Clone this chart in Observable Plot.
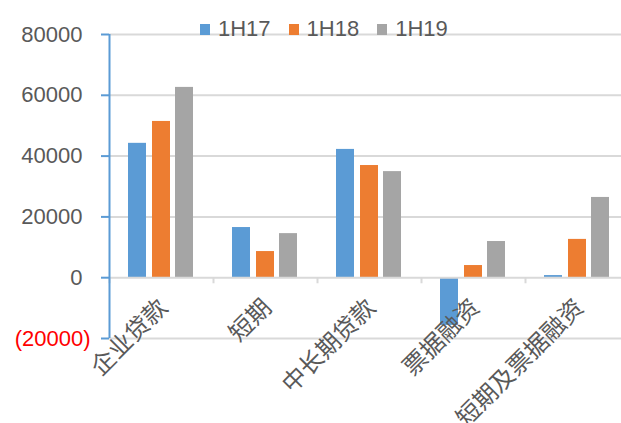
<!DOCTYPE html>
<html>
<head>
<meta charset="utf-8">
<script src="https://cdn.jsdelivr.net/npm/d3@7"></script>
<script src="https://cdn.jsdelivr.net/npm/@observablehq/plot@0.6"></script>
<style>
  html, body { margin: 0; padding: 0; background: #fff; overflow: hidden; }
  #wrap { position: relative; width: 621px; height: 423px; }
  #wrap svg { overflow: hidden; }
  #legend { position: absolute; left: 200px; top: 18px; display: flex; align-items: center;
    font-family: "Liberation Sans", Arial, sans-serif; font-size: 22px; color: #595959; line-height: 22px; }
  .item { display: flex; align-items: center; margin-right: 18px; }
  .sw { width: 10px; height: 11px; margin-right: 8px; }
</style>
</head>
<body>
<div id="wrap"><div id="legend"></div></div>
<script>
const categories = ["企业贷款", "短期", "中长期贷款", "票据融资", "短期及票据融资"];
const seriesNames = ["1H17", "1H18", "1H19"];
const v1H17 = [44200, 16500, 42200, -15700, 700];
const v1H18 = [51400, 8600, 36900, 4000, 12600];
const v1H19 = [62600, 14500, 34900, 11900, 26400];
const yTicks = [-20000, 0, 20000, 40000, 60000, 80000];
const colors = ["#5b9bd5", "#ed7d31", "#a5a5a5"];

const seriesValues = [v1H17, v1H18, v1H19];
const rows = categories.flatMap((c, i) => seriesNames.map((s, j) => ({category: c, series: s, value: seriesValues[j][i]})));
const insets = {"1H17": [19, 67], "1H18": [43, 43], "1H19": [66, 20]};

const numFont = '"Liberation Sans", Arial, sans-serif';
const cjkFont = '"Noto Sans CJK SC", sans-serif';

const chart = Plot.plot({
  width: 621,
  height: 423,
  marginLeft: 109,
  marginRight: -8,
  marginTop: 34,
  marginBottom: 85,
  x: {domain: categories, padding: 0, axis: null},
  y: {domain: [-20000, 80000], axis: null},
  color: {domain: seriesNames, range: colors},
  marks: [
    Plot.gridY(yTicks.filter(d => d !== 0), {stroke: "#d9d9d9", strokeOpacity: 1, strokeWidth: 2}),
    ...seriesNames.map(s => Plot.barY(rows.filter(d => d.series === s), {
      x: "category", y: "value", fill: "series",
      insetLeft: insets[s][0], insetRight: insets[s][1]
    })),
    Plot.ruleY([0], {stroke: "#d9d9d9", strokeWidth: 2}),
    Plot.ruleX(categories, {x: d => d, y1: () => 0, y2: () => -2000, dx: -52, stroke: "#d9d9d9", strokeWidth: 2}),
    Plot.ruleX([categories[0]], {x: d => d, dx: -52, stroke: "#5b9bd5", strokeWidth: 2}),
    Plot.axisY({ticks: yTicks, tickSize: 8, tickPadding: 19, stroke: "#5b9bd5", strokeWidth: 2, label: null,
      tickFormat: d => d < 0 ? "" : String(d), fill: "#595959", fontSize: 22, fontFamily: numFont}),
    Plot.axisY({ticks: yTicks.filter(d => d < 0), tickSize: 0, tickPadding: 19, label: null,
      tickFormat: d => `(${Math.abs(d)})`, fill: "#ff0000", fontSize: 22, fontFamily: numFont}),
    Plot.text(categories, {x: d => d, y: () => 0, text: d => d, rotate: -45, textAnchor: "end",
      dx: 2, dy: 26, fill: "#595959", fontSize: 24, fontFamily: cjkFont})
  ]
});
document.getElementById("wrap").prepend(chart);

const legend = document.getElementById("legend");
seriesNames.forEach((s, i) => {
  const item = document.createElement("div");
  item.className = "item";
  const sw = document.createElement("div");
  sw.className = "sw";
  sw.style.background = colors[i];
  const t = document.createElement("span");
  t.textContent = s;
  item.append(sw, t);
  legend.append(item);
});
</script>
</body>
</html>
